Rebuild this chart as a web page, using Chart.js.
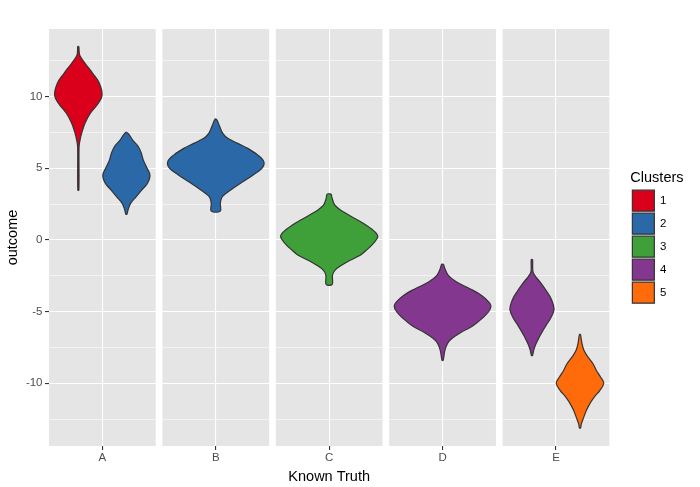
<!DOCTYPE html>
<html lang="en">
<head>
  <meta charset="UTF-8" />
  <title>Outcome by known truth and cluster</title>
  <script src="https://cdn.jsdelivr.net/npm/chart.js"></script>
  <style>
    * { margin: 0; padding: 0; box-sizing: border-box; }
    body { background: #fff; width: 700px; height: 487px; overflow: hidden; }
    #wrap { position: relative; width: 700px; height: 487px; }
  </style>
</head>
<body>
  <div id="wrap"><canvas id="chart"></canvas></div>

  <script>
    const facets = ['A', 'B', 'C', 'D', 'E'];
    const clusterNames = ['1', '2', '3', '4', '5'];
    const yTicks = [-12.5, -10, -7.5, -5, -2.5, 0, 2.5, 5, 7.5, 10, 12.5];

    // one violin per facet / cluster pair
    const violinFacet = ['A', 'A', 'B', 'C', 'D', 'E', 'E'];
    const violinCluster = ['1', '2', '2', '3', '4', '4', '5'];

    // outline of each violin, top to bottom: outcome value and half width (x units)
    const yA1 = [13.5, 13.03, 12.8, 12.33, 11.63, 10.94, 10.12, 9.54, 8.84, 8.14, 7.44, 6.97, 6.5, 3.48];
    const wA1 = [0.006, 0.011, 0.023, 0.075, 0.161, 0.236, 0.267, 0.225, 0.135, 0.075, 0.037, 0.019, 0.008, 0.006];

    const yA2 = [7.51, 7.32, 6.97, 6.5, 6.04, 5.57, 5.1, 4.52, 3.94, 3.48, 3.01, 2.55, 2.19, 1.8];
    const wA2 = [0.006, 0.034, 0.071, 0.135, 0.169, 0.191, 0.225, 0.265, 0.236, 0.172, 0.109, 0.048, 0.023, 0.006];

    const yB2 = [8.44, 8.25, 7.9, 7.44, 7.09, 6.74, 6.39, 5.92, 5.45, 4.99, 4.52, 4.06, 3.59, 3.24, 2.96, 2.55, 2.01];
    const wB2 = [0.006, 0.023, 0.045, 0.079, 0.135, 0.248, 0.36, 0.473, 0.541, 0.518, 0.417, 0.304, 0.191, 0.113, 0.068, 0.051, 0.051];

    const yC3 = [3.2, 2.89, 2.43, 1.96, 1.5, 1.03, 0.56, 0.21, -0.25, -0.72, -1.07, -1.42, -1.77, -2.12, -2.47, -3.1];
    const wC3 = [0.023, 0.034, 0.064, 0.158, 0.289, 0.417, 0.515, 0.546, 0.495, 0.417, 0.349, 0.236, 0.139, 0.064, 0.037, 0.034];

    const yD4 = [-1.7, -2.0, -2.47, -2.94, -3.4, -3.87, -4.34, -4.62, -5.03, -5.5, -5.97, -6.43, -6.9, -7.25, -7.71, -8.41];
    const wD4 = [0.011, 0.026, 0.064, 0.158, 0.307, 0.439, 0.521, 0.544, 0.515, 0.439, 0.346, 0.214, 0.101, 0.053, 0.026, 0.006];

    const yE4 = [-1.37, -2.12, -2.35, -2.59, -3.05, -3.52, -3.99, -4.45, -4.87, -5.38, -5.85, -6.31, -6.78, -7.25, -7.71, -8.06];
    const wE4 = [0.008, 0.009, 0.019, 0.045, 0.105, 0.158, 0.206, 0.236, 0.248, 0.217, 0.169, 0.124, 0.082, 0.045, 0.019, 0.006];

    const yE5 = [-6.59, -7.25, -7.71, -8.18, -8.64, -9.11, -9.58, -10.0, -10.51, -10.98, -11.44, -11.91, -12.38, -12.84, -13.12];
    const wE5 = [0.006, 0.023, 0.045, 0.09, 0.146, 0.184, 0.233, 0.267, 0.222, 0.158, 0.109, 0.071, 0.042, 0.015, 0.006];

    const violinY = [yA1, yA2, yB2, yC3, yD4, yE4, yE5];
    const violinW = [wA1, wA2, wB2, wC3, wD4, wE4, wE5];

    const clusterColors = ['#DA001C', '#2B68A8', '#3FA03A', '#84378F', '#FF6A0A'];

    // facet geometry on the shared x axis (discrete units like ggplot)
    const PANEL = 1.2;
    const GAP = 0.075;
    const DODGE = 0.27;
    const panelStart = i => i * (PANEL + GAP);
    const panelCenter = i => panelStart(i) + PANEL / 2;

    const datasets = violinY.map((ys, v) => {
      const fi = facets.indexOf(violinFacet[v]);
      const inFacet = violinFacet.filter(f => f === violinFacet[v]).length;
      const rank = violinFacet.slice(0, v).filter(f => f === violinFacet[v]).length;
      const cx = panelCenter(fi) + (inFacet > 1 ? (rank === 0 ? -DODGE : DODGE) : 0);
      const ws = violinW[v];
      const right = ys.map((y, k) => ({ x: cx + ws[k], y }));
      const left = ys.map((y, k) => ({ x: cx - ws[k], y })).reverse();
      const pts = right.concat(left);
      pts.push(pts[0]);
      const color = clusterColors[clusterNames.indexOf(violinCluster[v])];
      return {
        label: violinCluster[v],
        data: pts,
        showLine: true,
        fill: 'shape',
        backgroundColor: color,
        borderColor: '#333333',
        borderWidth: 1.2,
        tension: 0.35,
        pointRadius: 0,
        pointHoverRadius: 0
      };
    });

    // grey panel backgrounds, white strips between facets
    const panelBg = {
      id: 'panelBg',
      beforeDraw(chart) {
        const { ctx, chartArea, scales } = chart;
        ctx.save();
        ctx.fillStyle = '#E5E5E5';
        facets.forEach((f, i) => {
          const x0 = scales.x.getPixelForValue(panelStart(i));
          const x1 = scales.x.getPixelForValue(panelStart(i) + PANEL);
          ctx.fillRect(x0, chartArea.top, x1 - x0, chartArea.bottom - chartArea.top);
        });
        ctx.restore();
      }
    };

    // legend sits a little away from the panels, as in ggplot
    const legendNudge = {
      id: 'legendNudge',
      afterLayout(chart) {
        const lg = chart.legend;
        lg.left += 21;
        lg.right = chart.width;
        lg.top -= 20;
        lg.bottom -= 20;
      }
    };

    new Chart(document.getElementById('chart'), {
      type: 'scatter',
      data: { datasets },
      plugins: [panelBg, legendNudge],
      options: {
        responsive: true,
        maintainAspectRatio: false,
        animation: false,
        layout: { padding: { top: 29, right: 44.5, bottom: 0, left: 0 } },
        plugins: {
          tooltip: { enabled: false },
          legend: {
            position: 'right',
            align: 'center',
            title: {
              display: true,
              text: 'Clusters',
              position: 'start',
              color: '#000',
              font: { family: 'Liberation Sans', size: 14.5 },
              padding: { top: 0, bottom: 0 }
            },
            labels: {
              boxWidth: 22,
              boxHeight: 21,
              padding: 2,
              color: '#000',
              font: { family: 'Liberation Sans', size: 11.5 },
              filter: (item, data) => data.datasets.findIndex(d => d.label === item.text) === item.datasetIndex
            }
          }
        },
        scales: {
          x: {
            type: 'linear',
            min: 0,
            max: panelStart(facets.length - 1) + PANEL,
            afterBuildTicks: s => { s.ticks = facets.map((f, i) => ({ value: panelCenter(i) })); },
            afterFit: s => { s.height = 41; },
            ticks: {
              callback: (v, i) => facets[i],
              color: '#4D4D4D',
              font: { family: 'Liberation Sans', size: 11.5 },
              padding: 1,
              maxRotation: 0
            },
            grid: { color: '#FFFFFF', lineWidth: 1.1, tickColor: '#333333', tickLength: 4 },
            border: { display: false },
            title: {
              display: true,
              text: 'Known Truth',
              color: '#000',
              font: { family: 'Liberation Sans', size: 14.5 },
              padding: { top: 0, bottom: 1.5 }
            }
          },
          y: {
            min: -14.38,
            max: 14.72,
            afterBuildTicks: s => { s.ticks = yTicks.map(v => ({ value: v })); },
            afterFit: s => { s.width = 49; },
            ticks: {
              callback: v => (v % 5 === 0 ? String(v) : ''),
              color: '#4D4D4D',
              font: { family: 'Liberation Sans', size: 11.5 },
              padding: 2.5
            },
            grid: {
              color: '#FFFFFF',
              lineWidth: c => (c.tick && c.tick.value % 5 === 0 ? 1.1 : 0.55),
              tickColor: c => (c.tick && c.tick.value % 5 === 0 ? '#333333' : 'rgba(0,0,0,0)'),
              tickLength: 4
            },
            border: { display: false },
            title: {
              display: true,
              text: 'outcome',
              color: '#000',
              font: { family: 'Liberation Sans', size: 14.5 },
              padding: { top: 4, bottom: 0 }
            }
          }
        }
      }
    });
  </script>
</body>
</html>
